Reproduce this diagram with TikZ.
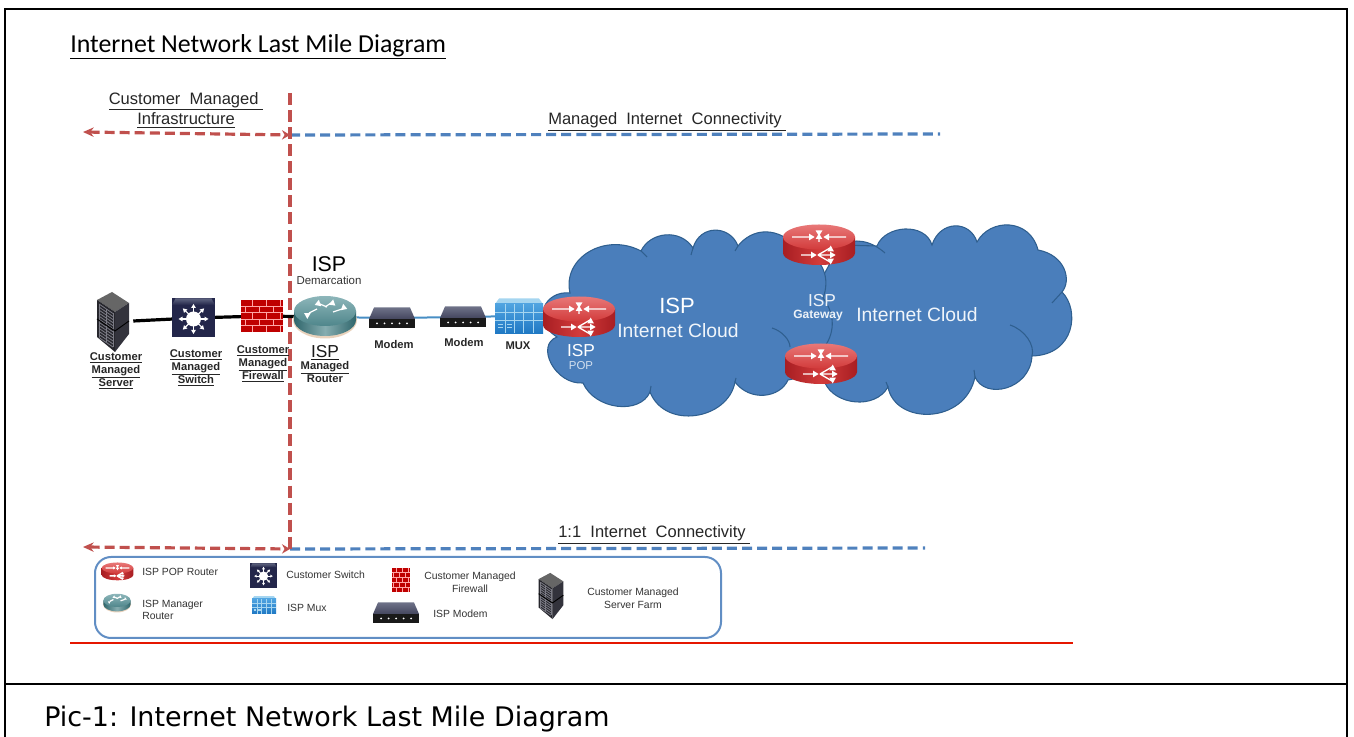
\documentclass[tikz,border=0pt]{standalone}
\usepackage{fontspec}
\setmainfont{Liberation Sans}
\newfontfamily\titlefont{Carlito}
\newfontfamily\capfont{DejaVu Sans}
\usetikzlibrary{arrows.meta}
\definecolor{custred}{HTML}{C0504D}
\definecolor{ispblue}{HTML}{4F81BD}
\definecolor{cloudblue}{HTML}{4A7EBB}
\definecolor{cloudedge}{HTML}{2F5F8F}
\definecolor{legendtext}{HTML}{333333}
\definecolor{rtrdark}{HTML}{A81E22}
\definecolor{rtrmid}{HTML}{D23B3B}
\definecolor{rtrlight}{HTML}{E87878}
\definecolor{navybox}{HTML}{23264A}
\definecolor{navytop}{HTML}{5E637F}
\definecolor{modemtop}{HTML}{6E7288}
\definecolor{modemlow}{HTML}{44465E}
\definecolor{muxtop}{HTML}{A5D5F0}
\definecolor{muxhigh}{HTML}{4FA3E0}
\definecolor{muxlow}{HTML}{1F78C4}
\definecolor{tealdark}{HTML}{2F666C}
\definecolor{tealmid}{HTML}{86ADB0}
\definecolor{tealtop}{HTML}{8DB6BA}
\definecolor{tealface}{HTML}{4F868B}
\definecolor{srvleft}{HTML}{26262C}
\definecolor{srvright}{HTML}{33333C}
\definecolor{srvgrid}{HTML}{7A7A84}
\newcommand{\whitetip}[3]{\fill[white,shift={(#1,#2)},rotate=#3] (0,-3.4) -- (5.6,0) -- (0,3.4) -- cycle;}
\newcommand{\routerbody}[3]{
	\shade[left color=#1,right color=#1,middle color=#2] (-36,-8) -- (-36,8) arc[start angle=180,end angle=0,x radius=36,y radius=12] -- (36,-8) -- cycle;
	\shade[top color=#3,bottom color=#2] (0,-8) ellipse[x radius=36,y radius=12.5];
}
\tikzset{
	x=0.75pt,y=-0.75pt,
	spot/.style={inner sep=0pt,minimum width=#1,minimum height=#1},
	wirecable/.style={line width=2.4pt,black},
	wirefibre/.style={line width=1.5pt,ispblue!90!cyan},
	reddash/.style={custred,line width=2.4pt,dash pattern=on 7.5pt off 3.8pt},
	bluedash/.style={ispblue,line width=2.4pt,dash pattern=on 7.5pt off 3.8pt},
	headlbl/.style={font=\fontsize{12.4}{15.6}\selectfont,align=center,text=black!85,inner sep=0pt},
	devlbl/.style={font=\fontsize{8.4}{9.9}\selectfont\bfseries,align=center,text=black!85,inner sep=0pt},
	isplbl/.style={font=\fontsize{13}{14}\selectfont,text=black!90,inner sep=0pt},
	cloudlbl/.style={font=\fontsize{14.5}{16}\selectfont,text=white!92!cloudblue,inner sep=0pt},
	legendlbl/.style={font=\fontsize{7.8}{9.6}\selectfont,text=legendtext,align=#1,inner sep=0pt},
	legendlbl/.default=left,
	pics/redrouter/.style={code={
		\routerbody{rtrdark}{rtrmid}{rtrlight}
		\draw[white,line width=1pt] (-27,-8) -- (-6,-8) (27,-8) -- (6,-8) (0,-14) -- (0,-3) (-18,10) -- (-6,10) (-1,10) -- (11,3) (-1,10) -- (12,10) (-1,10) -- (11,17);
		\whitetip{-10}{-8}{0}\whitetip{10}{-8}{180}\whitetip{0}{-14.5}{-90}\whitetip{0}{-6}{90}
		\whitetip{-8}{10}{0}\whitetip{10}{3.5}{-30}\whitetip{11}{10}{0}\whitetip{10}{16.5}{30}
	}},
	pics/tealrouter/.style={code={
		\fill[brown!35!white] (0,3) ellipse[x radius=32,y radius=18.5];
		\shade[left color=tealdark,right color=tealdark,middle color=tealmid] (-31,-6) -- (-31,3) arc[start angle=180,end angle=0,x radius=31,y radius=16] -- (31,-6) -- cycle;
		\shade[top color=tealtop,bottom color=tealface] (0,-6) ellipse[x radius=31,y radius=15];
		\draw[white,line width=.9pt] (-16,-4) -- (-8,-8) (17,-8) -- (8,-5) (-5,-13) -- (2,-10) (6,-14) -- (0,-10);
		\whitetip{-16}{-1}{150}\whitetip{17}{-10}{-20}\whitetip{-5}{-14}{200}\whitetip{6}{-15}{-40}
	}},
	pics/serverstack/.style={code={
		\fill[gray!80!black] (-1,-30) -- (16,-19) -- (2,-10) -- (-16,-22) -- cycle;
		\fill[srvleft] (-16,-22) -- (2,-10) -- (2,30) -- (-16,15) -- cycle;
		\fill[srvright] (2,-10) -- (16,-19) -- (16,12) -- (2,30) -- cycle;
		\foreach \r in {0,1,...,11}{
			\draw[srvgrid,line width=.6pt] (-14,{-18+\r*3.05}) -- (0,{-8.5+\r*3.05});
		}
		\draw[srvgrid,line width=.6pt] (-14,-18) -- (-14,15) (-7,-13) -- (-7,20) (0,-8.5) -- (0,25);
		\draw[black,line width=.7pt] (-16,-3) -- (2,9) -- (16,-1);
	}},
	pics/starswitch/.style={code={
		\fill[navybox] (-21.5,-19.5) rectangle (21.5,19.5);
		\shade[top color=navytop,bottom color=navybox] (-21.5,-13) -- (-18,-19.5) -- (18,-19.5) -- (21.5,-13) -- cycle;
		\fill[white] (0,1) circle[radius=7.5];
		\foreach \a in {0,45,...,315}{
			\draw[white,shift={(0,1)},rotate=\a,line width=.8pt] (7,0) -- (12,0);
			\fill[white,shift={(0,1)},rotate=\a] (11,-2.4) -- (15,0) -- (11,2.4) -- cycle;
		}
	}},
	pics/brickwall/.style={code={
		\fill[red!75!black] (-21,-16) rectangle (21,16);
		\foreach \r in {-9.6,-3.2,3.2,9.6}{\draw[red!35!white,line width=.6pt] (-21,\r) -- (21,\r);}
		\foreach \c in {-10,4,18}{
			\draw[red!35!white,line width=.6pt] (\c,-16) -- (\c,-9.6) (\c,-3.2) -- (\c,3.2) (\c,9.6) -- (\c,16);
			\draw[red!35!white,line width=.6pt] ({\c-7},-9.6) -- ({\c-7},-3.2) ({\c-7},3.2) -- ({\c-7},9.6);
		}
	}},
	pics/modembox/.style={code={
		\shade[top color=modemtop,bottom color=modemlow] (-18,-10.5) -- (18,-10.5) -- (23,1) -- (-23,1) -- cycle;
		\fill[black!90] (-23,1) rectangle (23,10.5);
		\foreach \c in {-15,-7.5,0,7.5,15}{\fill[white] (\c,5.5) circle[radius=1];}
	}},
	pics/muxrack/.style={code={
		\fill[muxtop] (-24,-12) -- (-20,-17.5) -- (20,-17.5) -- (24,-12) -- cycle;
		\shade[top color=muxhigh,bottom color=muxlow] (-24,-12) rectangle (24,17.5);
		\foreach \r in {-4,4}{\draw[muxtop,line width=.5pt] (-24,\r) -- (24,\r);}
		\foreach \c in {-14,-5,4,14}{\draw[muxtop,line width=.5pt] (\c,-12) -- (\c,17.5);}
		\draw[muxtop,line width=.4pt] (-21,8) -- (-16,8) (-21,11) -- (-16,11) (-12,8) -- (-7,8) (-12,11) -- (-7,11);
	}},
}
\begin{document}
\begin{tikzpicture}
	\useasboundingbox (0,0) rectangle (1354,737);
	% frame
	\draw[black,line width=2.2pt] (5,737)--(5,9)--(1347,9)--(1347,737);
	\draw[black,line width=2.2pt] (5,684)--(1347,684);

	\node[anchor=west,inner sep=0pt,font=\titlefont\fontsize{19.4}{22}\selectfont] (mainTitle) at (70,47) {\underline{Internet Network Last Mile Diagram}};
	\node[anchor=west,inner sep=0pt,font=\capfont\fontsize{20.2}{24}\selectfont] (picCaption) at (44,719) {Pic-1: Internet Network Last Mile Diagram};

	% clouds
	\draw[fill=cloudblue,draw=cloudedge,line width=.8pt] (840,245) .. controls (855,238) and (870,240) .. (885,253)
		(877,246) .. controls (885,225) and (925,222) .. (932,245)
		.. controls (940,220) and (970,220) .. (977,242)
		.. controls (990,218) and (1030,218) .. (1038,250)
		.. controls (1065,255) and (1072,280) .. (1062,292)
		.. controls (1080,310) and (1075,355) .. (1032,356)
		.. controls (1030,390) and (985,400) .. (975,377)
		.. controls (965,425) and (895,425) .. (888,387)
		.. controls (875,410) and (835,405) .. (825,383)
		-- (810,300) -- (840,245) -- (877,246) -- cycle;
	\draw[fill=cloudblue,draw=cloudedge,line width=.8pt] (570,293) .. controls (562,258) and (605,232) .. (641,251)
		.. controls (650,232) and (680,228) .. (693,248)
		.. controls (700,224) and (730,225) .. (738,246)
		.. controls (752,228) and (778,225) .. (800,250)
		.. controls (825,258) and (830,280) .. (823,298)
		.. controls (836,315) and (835,335) .. (822,350)
		.. controls (815,372) and (800,378) .. (788,380)
		.. controls (780,398) and (750,402) .. (735,382)
		.. controls (728,420) and (665,430) .. (650,392)
		.. controls (640,415) and (595,410) .. (583,383)
		.. controls (555,385) and (535,345) .. (557,337)
		.. controls (530,320) and (545,290) .. (570,293) -- cycle;
	\draw[draw=cloudedge,line width=.8pt] (641,251)--(647,257) (693,248)--(691,255) (738,246)--(735,251) (650,392)--(651,386) (735,382)--(736,378);
	\draw[draw=cloudedge,line width=.8pt] (772,328) .. controls (782,331) and (790,340) .. (790,347);
	\draw[draw=cloudedge,line width=.8pt] (1062,292)--(1052,303) (975,377)--(974,370) (888,387)--(886,382);
	\draw[draw=cloudedge,line width=.8pt] (1010,325) .. controls (1025,330) and (1035,345) .. (1032,356);

	% dividers
	\coordinate (divTop) at (290,93);
	\coordinate (divBottom) at (290,550);
	\coordinate (upperJoin) at (290,135);
	\coordinate (lowerJoin) at (290,549);
	\coordinate (upperLeft) at (83,132);
	\coordinate (lowerLeft) at (83,547);
	\coordinate (upperRight) at (940,134);
	\coordinate (lowerRight) at (925,548);
	\draw[bluedash] (upperJoin)--(upperRight);
	\draw[bluedash] (lowerJoin)--(lowerRight);
	\draw[reddash,{Stealth[length=8pt,width=7pt]}-{Stealth[length=6pt,width=7pt]}] (upperLeft)--(upperJoin);
	\draw[reddash,{Stealth[length=8pt,width=7pt]}-{Stealth[length=6pt,width=7pt]}] (lowerLeft)--(lowerJoin);
	\draw[custred,line width=2.6pt,dash pattern=on 9pt off 3.8pt] (divTop)--(divBottom);

	\node[headlbl] (lblInfra) at (186,110) {\underline{Customer\ \ Managed\ }\\\underline{Infrastructure}};
	\node[headlbl,anchor=west] (lblManaged) at (548,122) {\underline{Managed\ \ Internet\ \ Connectivity\ }};
	\node[headlbl,anchor=west] (lblOneToOne) at (558,535) {\underline{1:1\ \ Internet\ \ Connectivity\ }};

	% devices
	\node[spot=30pt] (server) at (113,322) {};
	\node[spot=28pt] (switch) at (193.5,318) {};
	\node[spot=26pt] (firewall) at (262,316) {};
	\node[spot=36pt] (manRouter) at (325,317) {};
	\node[spot=24pt] (modemA) at (392,318) {};
	\node[spot=24pt] (modemB) at (463,317) {};
	\node[spot=26pt] (mux) at (519,316) {};
	\node[spot=30pt] (popRouter) at (579,317) {};
	\node[spot=30pt] (gwTop) at (819,245) {};
	\node[spot=30pt] (gwBottom) at (821,364) {};
	\draw[wirecable] (server)--(switch);
	\draw[wirecable] (switch)--(firewall);
	\draw[wirecable] (firewall)--(manRouter);
	\draw[wirefibre] (manRouter)--(modemA);
	\draw[wirefibre] (modemA)--(modemB);
	\draw[wirefibre] (modemB)--(mux);
	\pic at (server) {serverstack};
	\pic at (switch) {starswitch};
	\pic at (firewall) {brickwall};
	\pic at (manRouter) {tealrouter};
	\pic at (modemA) {modembox};
	\pic at (modemB) {modembox};
	\pic at (mux) {muxrack};
	\pic at (popRouter) {redrouter};
	\pic at (gwTop) {redrouter};
	\pic at (gwBottom) {redrouter};

	\node[inner sep=0pt,font=\fontsize{16}{18}\selectfont,text=black] (lblIspDemarc) at (329,264) {ISP};
	\node[inner sep=0pt,font=\fontsize{8.6}{10}\selectfont,text=black!80] (lblDemarc) at (329,280) {Demarcation};
	\node[devlbl] (lblServer) at (116,371) {\underline{Customer}\\\underline{Managed}\\\underline{Server}};
	\node[devlbl] (lblSwitch) at (196,368) {\underline{Customer}\\\underline{Managed}\\\underline{Switch}};
	\node[devlbl] (lblFirewall) at (263,364) {\underline{Customer}\\\underline{Managed}\\\underline{Firewall}};
	\node[isplbl] (lblIspRouter) at (325,353) {\underline{ISP}};
	\node[devlbl] (lblRouter) at (325,372) {\underline{Managed}\\Router};
	\node[devlbl] (lblModemA) at (394,345) {Modem};
	\node[devlbl] (lblModemB) at (464,343) {Modem};
	\node[devlbl] (lblMux) at (518,346) {MUX};

	\node[isplbl,text=white] (lblIspPop) at (581,351) {ISP};
	\node[inner sep=0pt,font=\fontsize{8.6}{10}\selectfont,text=white!75!cloudblue] (lblPop) at (581,366) {POP};
	\node[inner sep=0pt,font=\fontsize{16.5}{18}\selectfont,text=white] (lblIspCloud) at (677,306) {ISP};
	\node[cloudlbl] (lblCloudA) at (678,331) {Internet Cloud};
	\node[isplbl,text=white!90!cloudblue] (lblIspGw) at (822,301) {ISP};
	\node[inner sep=0pt,font=\fontsize{9}{10}\selectfont\bfseries,text=white!90!cloudblue] (lblGateway) at (818,315.5) {Gateway};
	\node[cloudlbl] (lblCloudB) at (917,315) {Internet Cloud};

	% legend
	\draw[ispblue!90!white,line width=1.5pt,rounded corners=12pt] (95,557) rectangle (721,638);
	\pic[scale=.44] at (117.5,571.5) {redrouter};
	\pic[scale=.44] at (117,603) {tealrouter};
	\pic[scale=.62] at (263.5,575.5) {starswitch};
	\pic[scale=.5] at (264,605) {muxrack};
	\pic[xscale=.43,yscale=.78] at (401,580) {brickwall};
	\pic at (396,613) {modembox};
	\pic[scale=.77] at (551,596) {serverstack};
	\node[legendlbl,anchor=west] (keyPop) at (142,572) {ISP POP Router};
	\node[legendlbl,anchor=west] (keyManager) at (142,610) {ISP Manager\\Router};
	\node[legendlbl,anchor=west] (keySwitch) at (286,575) {Customer Switch};
	\node[legendlbl,anchor=west] (keyMux) at (287,608) {ISP Mux};
	\node[legendlbl=center] (keyFirewall) at (470,582.5) {Customer Managed\\Firewall};
	\node[legendlbl,anchor=west] (keyModem) at (433,614) {ISP Modem};
	\node[legendlbl=center] (keyServer) at (633,598.5) {Customer Managed\\Server Farm};

	\draw[red!80!orange!90!black,line width=1pt] (70,643)--(1073,643);
\end{tikzpicture}
\end{document}
